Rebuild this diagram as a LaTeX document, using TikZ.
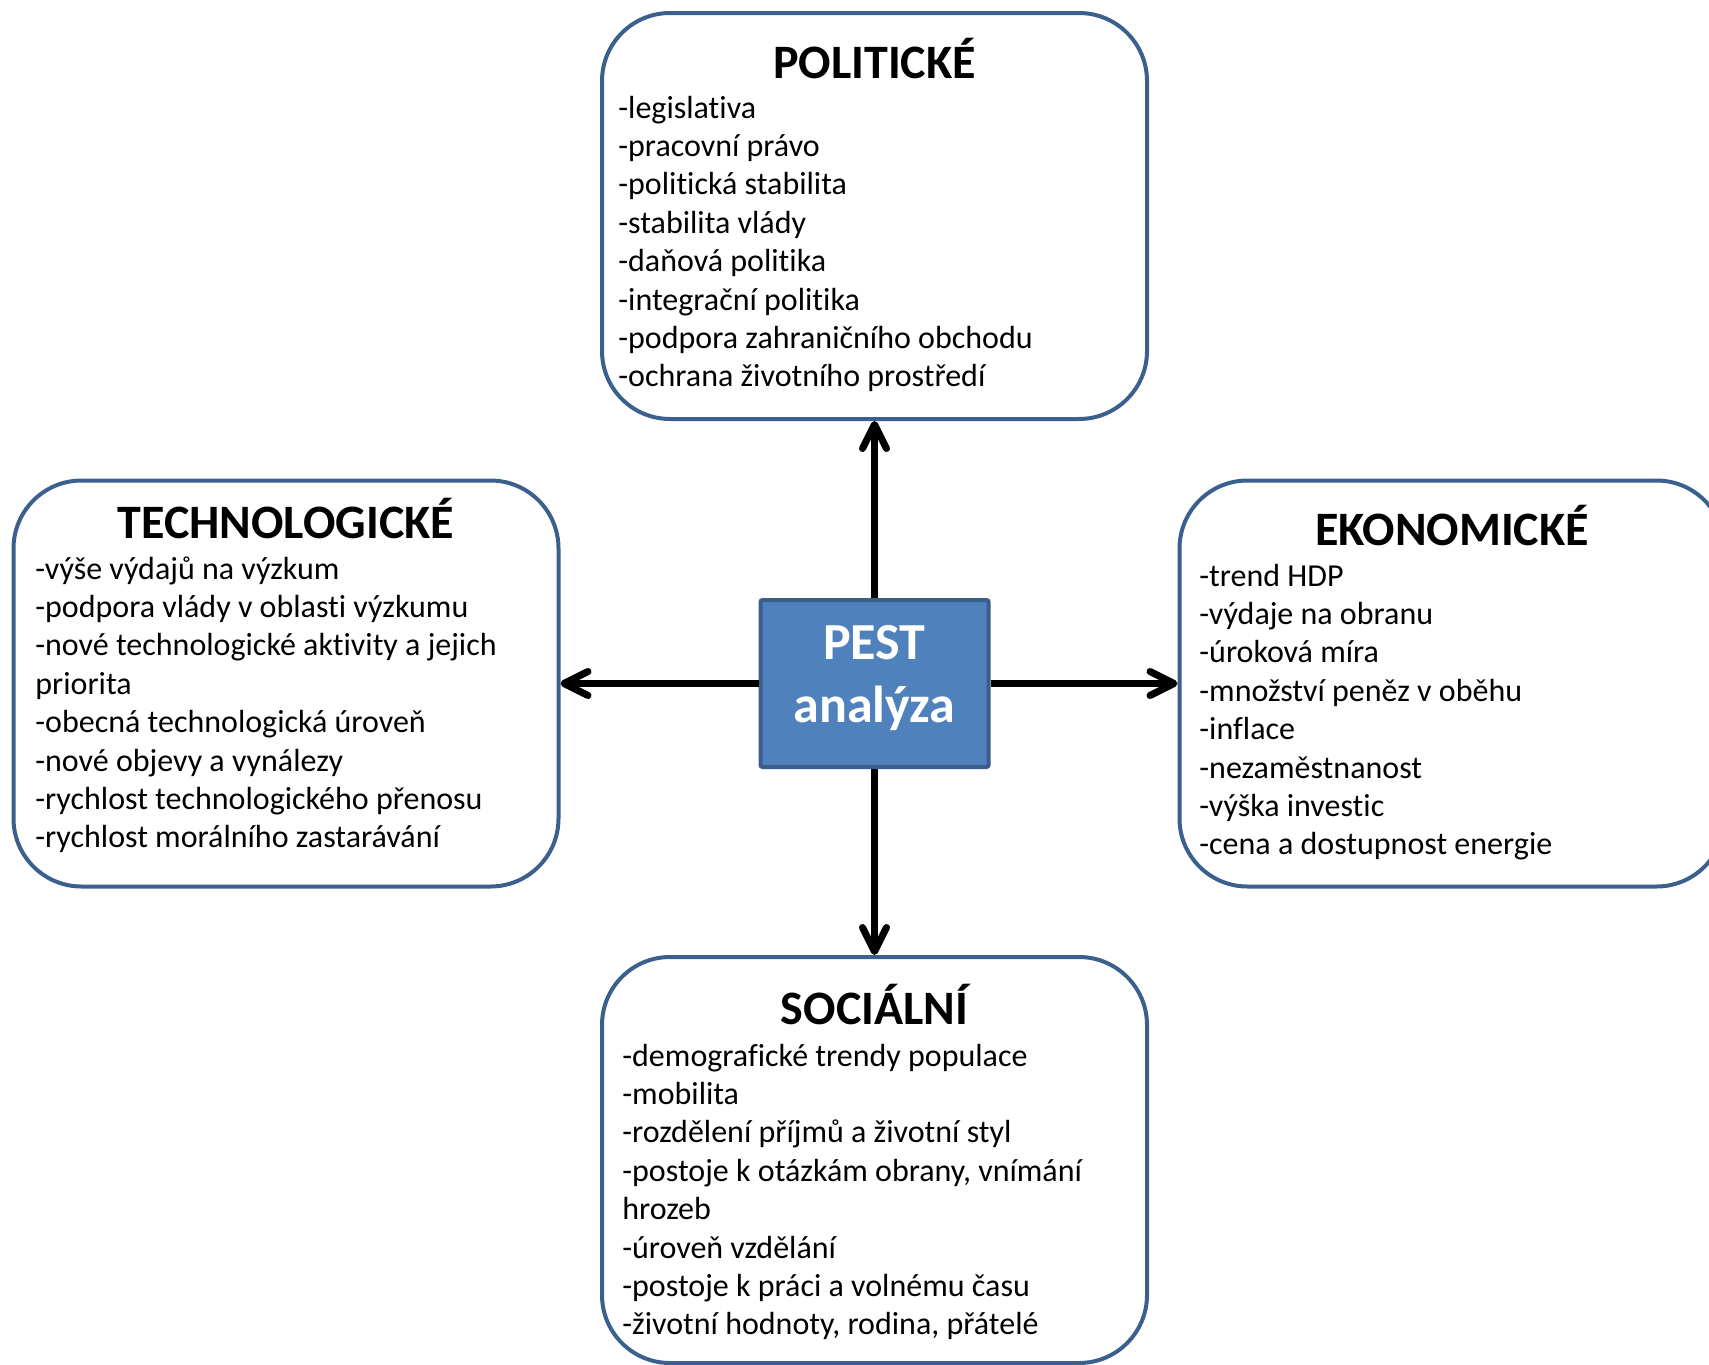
\documentclass[tikz,border=0pt]{standalone}
\usepackage{fontspec}
\setmainfont{Carlito}[Ligatures={TeX,NoCommon}]
\usepackage{tikz}
\usetikzlibrary{arrows.meta}

\definecolor{frameblue}{RGB}{60,96,142}
\definecolor{coreblue}{RGB}{79,129,189}
\definecolor{coreedge}{RGB}{58,93,138}

\begin{document}
\begin{tikzpicture}[
        x=0.5pt,
        y=-0.5pt,
        factor/.style={
            draw=frameblue,
            fill=white,
            line width=2pt,
            rounded corners=34pt,
            minimum width=272.5pt,
            minimum height=203pt
        },
        core/.style={
            draw=coreedge,
            fill=coreblue,
            line width=2pt,
            rounded corners=1pt,
            minimum width=114pt,
            minimum height=83.5pt,
            align=center,
            text=white,
            text depth=9.5pt,
            font=\bfseries\fontsize{26pt}{31.5pt}\selectfont
        },
        heading/.style={
            anchor=base,
            inner sep=0pt,
            font=\bfseries\fontsize{24pt}{28pt}\selectfont
        },
        item/.style={
            anchor=base west,
            inner sep=0pt,
            font=\fontsize{16pt}{19.2pt}\selectfont
        },
        link/.style={
            line width=3.5pt,
            -{Straight Barb[length=12pt,width=12pt,round]}
        }
    ]

    \useasboundingbox (0,0) rectangle (1709,1365);

    % The four factor boxes
    \node[factor] (pol) at (874.5,216) {};
    \node[factor] (tech) at (286,683.5) {};
    \node[factor] (eko) at (1452,683.5) {};
    \node[factor] (soc) at (874.5,1160) {};

    % Centre box
    \node[core] (pest) at (874.5,683.5) {PEST\\analýza};

    % Arrows from the centre to each factor
    \foreach \b/\a in {pol/north,soc/south,tech/west,eko/east}
        \draw[link] (pest.\a) -- (\b);

    % Headings
    \node[heading] (pol-head) at (874.5,78) {POLITICKÉ};
    \node[heading] (tech-head) at (286,538) {TECHNOLOGICKÉ};
    \node[heading] (eko-head) at (1452,545) {EKONOMICKÉ};
    \node[heading] (soc-head) at (874.5,1024) {SOCIÁLNÍ};

    % Political factors
    \foreach \txt [count=\i from 0] in {-legislativa,-pracovní právo,
            -politická stabilita,-stabilita vlády,-daňová politika,
            -integrační politika,-podpora zahraničního obchodu,
            -ochrana životního prostředí}
        \node[item] (pol\i) at (618,118+38.4*\i) {\txt};

    % Technological factors
    \foreach \txt [count=\i from 0] in {-výše výdajů na výzkum,
            -podpora vlády v oblasti výzkumu,
            -nové technologické aktivity a jejich,priorita,
            -obecná technologická úroveň,-nové objevy a vynálezy,
            -rychlost technologického přenosu,
            -rychlost morálního zastarávání}
        \node[item] (tech\i) at (35,579+38.4*\i) {\txt};

    % Economic factors
    \foreach \txt [count=\i from 0] in {-trend HDP,-výdaje na obranu,
            -úroková míra,-množství peněz v oběhu,-inflace,
            -nezaměstnanost,-výška investic,-cena a dostupnost energie}
        \node[item] (eko\i) at (1199,586+38.4*\i) {\txt};

    % Social factors
    \foreach \txt [count=\i from 0] in {-demografické trendy populace,
            -mobilita,-rozdělení příjmů a životní styl,
            {-postoje k otázkám obrany, vnímání},hrozeb,
            -úroveň vzdělání,-postoje k práci a volnému času,
            {-životní hodnoty, rodina, přátelé}}
        \node[item] (soc\i) at (622,1066+38.4*\i) {\txt};

\end{tikzpicture}
\end{document}
